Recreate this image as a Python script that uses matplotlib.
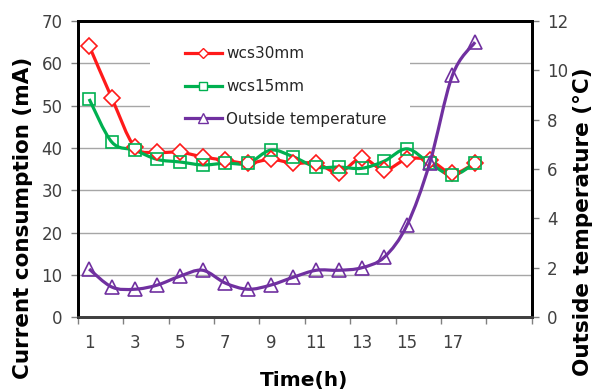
import matplotlib
matplotlib.use("Agg")
import matplotlib.pyplot as plt
from matplotlib.path import Path
from matplotlib.patches import PathPatch, Rectangle
from matplotlib.lines import Line2D
import numpy as np

# data
hours = list(range(1, 19))
wcs30mm = [64.2, 51.8, 40.3, 39.0, 39.0, 37.9, 37.1, 36.4, 37.3, 36.4,
           36.4, 34.2, 37.6, 34.8, 37.4, 37.1, 34.0, 36.4]
wcs15mm = [51.6, 41.4, 39.5, 37.3, 36.7, 36.0, 36.4, 36.4, 39.5, 37.9,
           35.5, 35.5, 35.2, 36.9, 39.8, 36.4, 33.6, 36.4]
outside_temp = [1.95, 1.22, 1.13, 1.30, 1.66, 1.90, 1.38, 1.13, 1.30, 1.62,
                1.90, 1.90, 2.00, 2.43, 3.73, 6.24, 9.80, 11.15]
xtick_labels = ["1", "3", "5", "7", "9", "11", "13", "15", "17"]

RED = "#ff1a1a"
GREEN = "#00b050"
PURPLE = "#7030a0"
TICKCOL = "#404040"
LW = 2.3


def smooth_path(x, y):
    # excel style smooth line: bezier segments through every point
    x = np.asarray(x, float)
    y = np.asarray(y, float)
    verts = [(x[0], y[0])]
    codes = [Path.MOVETO]
    n = len(x)
    for i in range(n - 1):
        p0 = (x[max(i - 1, 0)], y[max(i - 1, 0)])
        p1 = (x[i], y[i])
        p2 = (x[i + 1], y[i + 1])
        p3 = (x[min(i + 2, n - 1)], y[min(i + 2, n - 1)])
        c1 = (p1[0] + (p2[0] - p0[0]) / 6, p1[1] + (p2[1] - p0[1]) / 6)
        c2 = (p2[0] - (p3[0] - p1[0]) / 6, p2[1] - (p3[1] - p1[1]) / 6)
        verts += [c1, c2, p2]
        codes += [Path.CURVE4] * 3
    return Path(verts, codes)


fig = plt.figure(figsize=(6.03, 3.92), dpi=100)
ax = fig.add_axes([0.129, 0.191, 0.753, 0.755])
ax2 = ax.twinx()

# gridlines from the left axis
for v in range(10, 70, 10):
    ax.axhline(v, color="#a6a6a6", lw=1, zorder=0)
# white legend area hides the gridlines behind it
ax.add_patch(Rectangle((0.159, 0.64), 0.572, 0.345, transform=ax.transAxes,
                       facecolor="white", edgecolor="none", zorder=0.5))

ax.add_patch(PathPatch(smooth_path(hours, wcs30mm), fill=False, edgecolor=RED, lw=LW, zorder=3))
ax.plot(hours, wcs30mm, ls="none", marker="D", ms=8, mfc="white", mec=RED, mew=1.2, zorder=4)
ax.add_patch(PathPatch(smooth_path(hours, wcs15mm), fill=False, edgecolor=GREEN, lw=LW, zorder=3))
ax.plot(hours, wcs15mm, ls="none", marker="s", ms=9, mfc="none", mec=GREEN, mew=1.2, zorder=4)

ax2.add_patch(PathPatch(smooth_path(hours, outside_temp), fill=False, edgecolor=PURPLE, lw=LW, zorder=3))
ax2.plot(hours, outside_temp, ls="none", marker="^", ms=9.5, mfc="none", mec=PURPLE, mew=1.2, zorder=4)

ax.set_xlim(0.5, 20.5)
ax.set_ylim(0, 70)
ax2.set_ylim(0, 12)

ax.set_yticks(range(0, 71, 10))
ax2.set_yticks(range(0, 13, 2))
ax.set_xticks(range(1, 18, 2))
ax.set_xticklabels(xtick_labels)
ax.set_xticks(np.arange(0.5, 20.6, 2), minor=True)

ax.tick_params(axis="x", which="major", length=0, pad=12, labelsize=12, labelcolor=TICKCOL)
ax.tick_params(axis="x", which="minor", length=5, width=1, color="#808080", direction="out")
ax.tick_params(axis="y", length=5, width=1, color="#808080", pad=6, labelsize=12, labelcolor=TICKCOL)
ax2.tick_params(axis="y", length=5, width=1, color="#808080", pad=6, labelsize=12, labelcolor=TICKCOL)

for a in (ax, ax2):
    for side in ("left", "right", "top"):
        a.spines[side].set_linewidth(2)
        a.spines[side].set_color("#000000")
    a.spines["bottom"].set_linewidth(2)
    a.spines["bottom"].set_color("#404040")

handles = [
    Line2D([], [], color=RED, lw=LW, marker="D", ms=5.5, mfc="white", mec=RED),
    Line2D([], [], color=GREEN, lw=LW, marker="s", ms=6, mfc="white", mec=GREEN),
    Line2D([], [], color=PURPLE, lw=LW, marker="^", ms=6.5, mfc="white", mec=PURPLE),
]
leg = ax2.legend(handles, ["wcs30mm", "wcs15mm", "Outside temperature"],
                 loc="upper left", bbox_to_anchor=(0.236, 0.915), borderaxespad=0,
                 fontsize=11, frameon=False, handlelength=2.4, handletextpad=0.3,
                 labelspacing=1.16, borderpad=0)
for t in leg.get_texts():
    t.set_color("#262626")

fig.text(0.038, 0.444, "Current consumption (mA)", rotation=90, ha="center", va="center",
         fontsize=15.5, fontweight="bold", color="#000000")
fig.text(0.967, 0.434, "Outside temperature (\u00b0C)", rotation=90, ha="center", va="center",
         fontsize=15.5, fontweight="bold", color="#000000")
fig.text(0.505, 0.03, "Time(h)", ha="center", va="center",
         fontsize=14.5, fontweight="bold", color="#000000")

fig.savefig("out.png", dpi=100)
